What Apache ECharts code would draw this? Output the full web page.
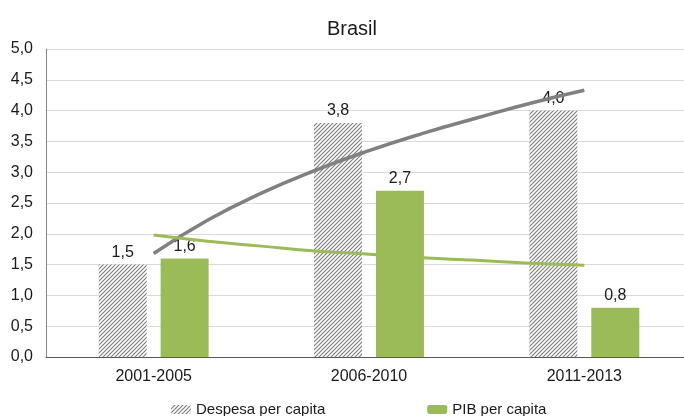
<!DOCTYPE html>
<html>
<head>
<meta charset="utf-8">
<script src="https://cdn.jsdelivr.net/npm/echarts@6/dist/echarts.min.js"></script>
<style>
html, body { margin: 0; padding: 0; background: #fff; overflow: hidden; }
/* o gráfico original está cortado à direita, por isso o div é mais largo que a janela */
#chart { width: 700px; height: 416px; }
</style>
</head>
<body>
<div id="chart"></div>
<script>
// dados
const categories = ['2001-2005', '2006-2010', '2011-2013']
const despesa = [1.5, 3.8, 4.0]
const pib = [1.6, 2.7, 0.8]
const yTicks = [0, 5, 0.5] // min, max, intervalo

// linhas de tendência (x em unidades de categoria)
const trendX = [1, 1.25, 1.5, 1.75, 2, 2.25, 2.5, 2.75, 3]
const despesaTrend = [1.68, 2.22, 2.66, 3.03, 3.35, 3.63, 3.88, 4.12, 4.33]
const pibTrend = [1.98, 1.88, 1.80, 1.72, 1.67, 1.61, 1.57, 1.52, 1.49]

const fmt = v => Number(v).toFixed(1).replace('.', ',')

// padrão hachurado para a despesa
const makeHatch = () => {
    const c = document.createElement('canvas')
    c.width = 4
    c.height = 4
    const ctx = c.getContext('2d')
    ctx.fillStyle = '#ffffff'
    ctx.fillRect(0, 0, 4, 4)
    ctx.strokeStyle = '#808080'
    ctx.lineWidth = 1.2
    ctx.beginPath()
    ctx.moveTo(0, 4)
    ctx.lineTo(4, 0)
    ctx.moveTo(-1, 1)
    ctx.lineTo(1, -1)
    ctx.moveTo(3, 5)
    ctx.lineTo(5, 3)
    ctx.stroke()
    return c
}
const hatch = { image: makeHatch(), repeat: 'repeat' }

const chart = echarts.init(document.getElementById('chart'))
const font = 'Liberation Sans'
const txt = '#1a1a1a'

const option = {
    animation: false,
    textStyle: { fontFamily: font, color: txt },
    title: {
        text: 'Brasil',
        left: 347,
        top: 14,
        textAlign: 'center',
        textStyle: { fontFamily: font, fontSize: 20, fontWeight: 'normal', color: txt },
    },
    legend: {
        data: ['Despesa per capita', 'PIB per capita'],
        left: 166,
        top: 397,
        itemWidth: 20,
        itemHeight: 9,
        itemGap: 102,
        textStyle: { fontFamily: font, fontSize: 15, color: txt },
    },
    grid: { left: 46, top: 49, width: 646, height: 308 },
    xAxis: [
        {
            type: 'category',
            data: categories,
            axisLine: { lineStyle: { color: '#595959', width: 1 } },
            axisTick: { show: false },
            axisLabel: { fontFamily: font, fontSize: 16, color: txt, margin: 12 },
        },
        {
            type: 'value',
            min: 0.5,
            max: 3.5,
            show: false,
        },
    ],
    yAxis: {
        type: 'value',
        min: yTicks[0],
        max: yTicks[1],
        interval: yTicks[2],
        axisLine: { show: true, lineStyle: { color: '#868686' } },
        axisTick: { show: false },
        splitLine: { lineStyle: { color: '#d9d9d9' } },
        axisLabel: { fontFamily: font, fontSize: 16, color: txt, margin: 13, formatter: fmt },
    },
    series: [
        {
            name: 'Despesa per capita',
            type: 'bar',
            data: despesa,
            barWidth: 48,
            barGap: '29%',
            itemStyle: { color: hatch },
            label: { show: true, position: 'top', distance: 4, fontSize: 16, color: txt, formatter: p => fmt(p.value) },
        },
        {
            name: 'PIB per capita',
            type: 'bar',
            data: pib,
            barWidth: 48,
            itemStyle: { color: '#9bbb59' },
            label: { show: true, position: 'top', distance: 4, fontSize: 16, color: txt, formatter: p => fmt(p.value) },
        },
        {
            name: 'Tendência despesa',
            type: 'line',
            xAxisIndex: 1,
            data: trendX.map((x, i) => [x, despesaTrend[i]]),
            smooth: true,
            showSymbol: false,
            lineStyle: { color: '#808080', width: 3.5 },
            z: 5,
        },
        {
            name: 'Tendência PIB',
            type: 'line',
            xAxisIndex: 1,
            data: trendX.map((x, i) => [x, pibTrend[i]]),
            smooth: true,
            showSymbol: false,
            lineStyle: { color: '#9bbb59', width: 3 },
            z: 5,
        },
    ],
}
chart.setOption(option)
</script>
</body>
</html>
